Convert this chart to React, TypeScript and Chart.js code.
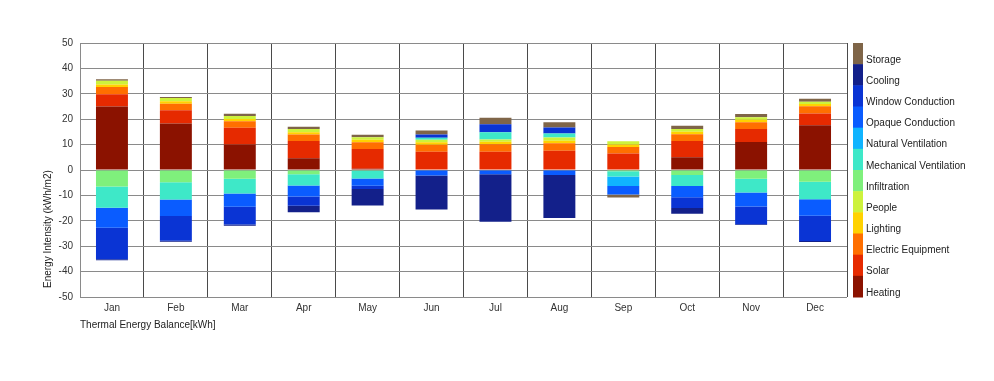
import React, { useEffect, useRef } from "react";
import { Chart, registerables } from "chart.js";

Chart.register(...registerables);

const months = ["Jan", "Feb", "Mar", "Apr", "May", "Jun", "Jul", "Aug", "Sep", "Oct", "Nov", "Dec"];

const heating = [25.0, 18.3, 10.0, 4.6, 0.5, 0, 0, 0, 0, 5.0, 11.0, 17.6];
const solar = [4.8, 5.2, 6.6, 6.8, 7.8, 7.2, 7.2, 7.6, 6.5, 6.4, 5.1, 4.6];
const electricEquipment = [2.9, 2.6, 2.6, 2.6, 2.6, 2.7, 2.9, 2.9, 2.6, 2.7, 2.7, 2.9];
const lighting = [1.0, 1.0, 0.9, 0.9, 1.0, 1.0, 1.0, 1.0, 0.9, 1.0, 1.0, 0.9];
const people = [1.4, 1.2, 1.2, 1.2, 1.0, 1.0, 0.9, 1.3, 1.3, 1.0, 1.0, 0.9];
const infiltration = [-6.5, -4.8, -3.4, -1.7, -0.3, 0, 0, 0, -0.5, -2.0, -3.4, -4.6];
const mechanicalVentilation = [-8.4, -6.8, -5.9, -4.4, -3.0, 0.8, 2.9, 1.6, -2.1, -4.3, -5.5, -6.9];
const naturalVentilation = [0, 0, 0, 0, 0, 0, 0, 0, -3.7, 0, 0, 0];
const opaqueConduction = [-7.8, -6.5, -5.2, -4.3, -2.9, -2.2, -1.7, -2.0, -3.3, -4.4, -5.5, -6.5];
const windowConduction = [-12.4, -9.8, -7.0, -3.7, -1.3, 1.3, 3.1, 2.3, 0, -4.3, -7.0, -10.0];
const cooling = [-0.4, -0.3, -0.4, -2.5, -6.5, -13.4, -18.7, -16.9, 0, -2.2, -0.3, -0.3];
const storage = [0.6, 0.4, 0.8, 0.9, 1.0, 1.6, 2.6, 2.1, -1.2, 1.3, 1.2, 1.2];

const seriesNames = [
  "Heating",
  "Solar",
  "Electric Equipment",
  "Lighting",
  "People",
  "Infiltration",
  "Mechanical Ventilation",
  "Natural Ventilation",
  "Opaque Conduction",
  "Window Conduction",
  "Cooling",
  "Storage",
];
const seriesValues = [
  heating,
  solar,
  electricEquipment,
  lighting,
  people,
  infiltration,
  mechanicalVentilation,
  naturalVentilation,
  opaqueConduction,
  windowConduction,
  cooling,
  storage,
];
const seriesColors = [
  "#8b1200",
  "#e62a00",
  "#ff6f00",
  "#ffd200",
  "#cdf23c",
  "#7ff07c",
  "#3ee8c8",
  "#10b4ff",
  "#0a5cff",
  "#0a34d4",
  "#13208a",
  "#7f6548",
];

const yTitle = "Energy Intensity (kWh/m2)";
const xTitle = "Thermal Energy Balance[kWh]";
const FONT = "'Liberation Sans', Arial, sans-serif";

const overlayPlugin = {
  id: "overlay",
  afterDraw(chart: any) {
    const ctx = chart.ctx;
    const area = chart.chartArea;
    ctx.save();
    ctx.font = `10px ${FONT}`;
    ctx.fillStyle = "#222";
    // x title
    ctx.textAlign = "left";
    ctx.textBaseline = "middle";
    ctx.fillText(xTitle, area.left, 325);
    // y title
    ctx.save();
    ctx.translate(48, 288);
    ctx.rotate(-Math.PI / 2);
    ctx.textAlign = "left";
    ctx.textBaseline = "middle";
    ctx.fillText(yTitle, 0, 0);
    ctx.restore();
    // colour-bar legend
    const n = seriesNames.length;
    const segH = (area.bottom - area.top) / n;
    const x0 = 853;
    for (let i = 0; i < n; i++) {
      const idx = n - 1 - i;
      const top = area.top + i * segH;
      ctx.fillStyle = seriesColors[idx];
      ctx.fillRect(x0, top, 10, segH + 0.5);
      ctx.fillStyle = "#222";
      ctx.textAlign = "left";
      ctx.textBaseline = "middle";
      ctx.fillText(seriesNames[idx], 866, top + 17);
    }
    ctx.restore();
  },
};

export default function App() {
  const ref = useRef<HTMLCanvasElement | null>(null);
  useEffect(() => {
    if (!ref.current) return;
    Chart.defaults.font.family = FONT;
    Chart.defaults.font.size = 10;
    const chart = new Chart(ref.current, {
      type: "bar",
      data: {
        labels: months,
        datasets: seriesNames.map((name, i) => ({
          label: name,
          data: seriesValues[i],
          backgroundColor: seriesColors[i],
          borderWidth: 0,
          barPercentage: 0.5,
          categoryPercentage: 1.0,
        })),
      },
      options: {
        responsive: false,
        animation: false,
        layout: { padding: { left: 0, right: 147, top: 43, bottom: 0 } },
        plugins: { legend: { display: false }, tooltip: { enabled: false } },
        scales: {
          x: {
            stacked: true,
            grid: { color: "#4a4a4a", drawTicks: false, offset: true, lineWidth: 1 },
            border: { display: false },
            ticks: { color: "#333", padding: 5, font: { size: 10, family: FONT } },
            afterFit: (scale: any) => {
              scale.height = 84;
            },
          },
          y: {
            stacked: true,
            min: -50,
            max: 50,
            grid: { color: "#8a8a8a", drawTicks: false, lineWidth: 1 },
            border: { display: true, color: "#8a8a8a" },
            ticks: { stepSize: 10, color: "#333", padding: 7, font: { size: 10, family: FONT } },
            afterFit: (scale: any) => {
              scale.width = 80;
            },
          },
        },
      },
      plugins: [overlayPlugin],
    });
    return () => chart.destroy();
  }, []);
  return (
    <div style={{ position: "fixed", left: 0, top: 0, width: 994, height: 381, background: "#fff" }}>
      <canvas ref={ref} width={994} height={381} style={{ display: "block" }} />
    </div>
  );
}
